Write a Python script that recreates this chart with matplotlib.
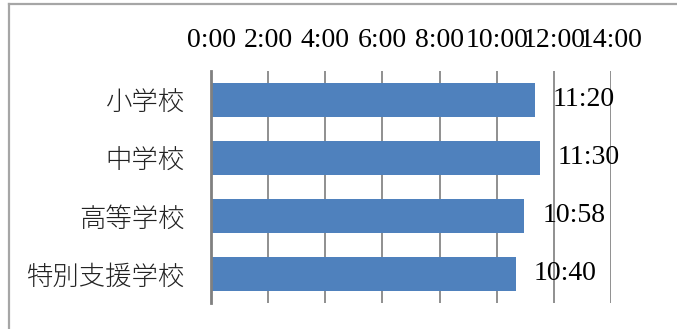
import matplotlib
matplotlib.use("Agg")
import matplotlib.pyplot as plt
from matplotlib.lines import Line2D
from matplotlib.ticker import FixedLocator, FuncFormatter

# data (hours:minutes)
schools = ["小学校", "中学校", "高等学校", "特別支援学校"]
times = ["11:20", "11:30", "10:58", "10:40"]
x_ticks = [0, 2, 4, 6, 8, 10, 12, 14]


def to_hours(s):
    h, m = s.split(":")
    return int(h) + int(m) / 60.0


hours = [to_hours(t) for t in times]

W, H = 677, 329
DPI = 100
fig = plt.figure(figsize=(W / DPI, H / DPI), dpi=DPI)
ax = fig.add_axes([211 / W, 1 - 303 / H, 400 / W, 232 / H])

num_font = ["Liberation Serif", "Noto Sans CJK JP"]
jp_font = ["Noto Sans CJK JP", "DejaVu Sans"]
bar_color = "#4F81BD"
grid_color = "#878787"

y = list(range(len(schools)))
ax.barh(y, hours, height=0.57, color=bar_color, zorder=3)
ax.set_ylim(len(schools) - 0.5, -0.5)
ax.set_xlim(0, 14)

# value labels right of each bar
for yi, h, t in zip(y, hours, times):
    ax.annotate(t, (h, yi), xytext=(13, 0), textcoords="offset points",
                ha="left", va="center", fontsize=20, family=num_font,
                color="black", zorder=4)

ax.xaxis.tick_top()
ax.xaxis.set_major_locator(FixedLocator(x_ticks))
ax.xaxis.set_major_formatter(FuncFormatter(lambda v, p: f"{int(v)}:00"))
ax.tick_params(axis="x", length=0, pad=13)
for lab in ax.get_xticklabels():
    lab.set_fontsize(20)
    lab.set_family(num_font)

ax.set_yticks(y)
ax.set_yticklabels(schools, fontsize=19, family=jp_font, fontweight="light",
                   color="#222222")
ax.tick_params(axis="y", length=0, pad=19)

for v in x_ticks[1:]:
    ax.axvline(v, color=grid_color, lw=1.3, zorder=1)

for side in ["top", "right", "bottom"]:
    ax.spines[side].set_visible(False)
ax.spines["left"].set_color("#808080")
ax.spines["left"].set_linewidth(2.0)
ax.spines["left"].set_zorder(5)

# outer frame pieces visible in the crop (top and left)
fig.add_artist(Line2D([9 / W, 1], [1 - 4 / H, 1 - 4 / H], transform=fig.transFigure,
                      color="#a6a6a6", lw=1.6))
fig.add_artist(Line2D([9 / W, 9 / W], [0, 1 - 4 / H], transform=fig.transFigure,
                      color="#a6a6a6", lw=1.6))

fig.savefig("out.png", dpi=DPI)
